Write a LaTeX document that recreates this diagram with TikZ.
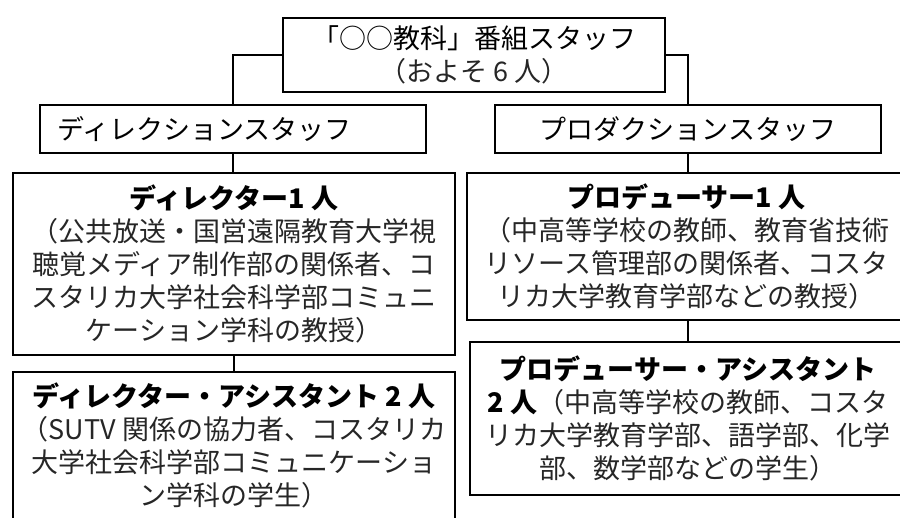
\documentclass[tikz,border=0pt]{standalone}
\usepackage{fontspec}
\setmainfont{Noto Sans CJK JP}
\newcommand\jpsize{\fontsize{27}{33}\selectfont}
\definecolor{bodytext}{gray}{0.15}
\begin{document}
\begin{tikzpicture}[x=1pt,y=-1pt,
  box/.style={draw, line width=2.6pt, inner sep=0pt, align=center, font=\jpsize},
  conn/.style={line width=1.8pt}]
\useasboundingbox (0,0) rectangle (900,517);
\clip (0,0) rectangle (900,517);
% boxes
\node[box, minimum width=382pt, minimum height=74pt] (top) at (474,55)
  {「○○教科」番組スタッフ\\{\color{bodytext}（およそ 6 人）}};
\node[box, minimum width=386pt, minimum height=48pt, text width=352pt, align=left] (dstaff) at (233,129)
  {ディレクションスタッフ};
\node[box, minimum width=386pt, minimum height=48pt] (pstaff) at (688,129)
  {プロダクションスタッフ};
\node[box, minimum width=442pt, minimum height=182pt] (dir) at (234,264)
  {\textbf{ディレクター1 人}\\\color{bodytext}（公共放送・国営遠隔教育大学視\\\color{bodytext}聴覚メディア制作部の関係者、コ\\\color{bodytext}スタリカ大学社会科学部コミュニ\\\color{bodytext}ケーション学科の教授）};
\node[box, minimum width=442pt, minimum height=147pt] (asst) at (234,445.5)
  {\textbf{ディレクター・アシスタント 2 人}\\\color{bodytext}（SUTV 関係の協力者、コスタリカ\\\color{bodytext}大学社会科学部コミュニケーショ\\\color{bodytext}ン学科の学生）};
\node[box, minimum width=439pt, minimum height=147pt] (prod) at (686.5,246.5)
  {\textbf{プロデューサー1 人}\\\color{bodytext}（中高等学校の教師、教育省技術\\\color{bodytext}リソース管理部の関係者、コスタ\\\color{bodytext}リカ大学教育学部などの教授）};
\node[box, minimum width=436pt, minimum height=153pt] (pa) at (688,418.5)
  {\textbf{プロデューサー・アシスタント}\\\textbf{2 人}{\color{bodytext}（中高等学校の教師、コスタ}\\\color{bodytext}リカ大学教育学部、語学部、化学\\\color{bodytext}部、数学部などの学生）};
% connectors
\draw[conn] (top.west) -| (dstaff.north);
\draw[conn] (top.east) -| (pstaff.north);
\draw[conn] (dstaff.south) -- (dstaff.south |- dir.north);
\draw[conn] (dir.south) -- (asst.north);
\draw[conn] (pstaff.south) -- (pstaff.south |- prod.north);
\draw[conn] (pa.north |- prod.south) -- (pa.north);
\end{tikzpicture}
\end{document}
